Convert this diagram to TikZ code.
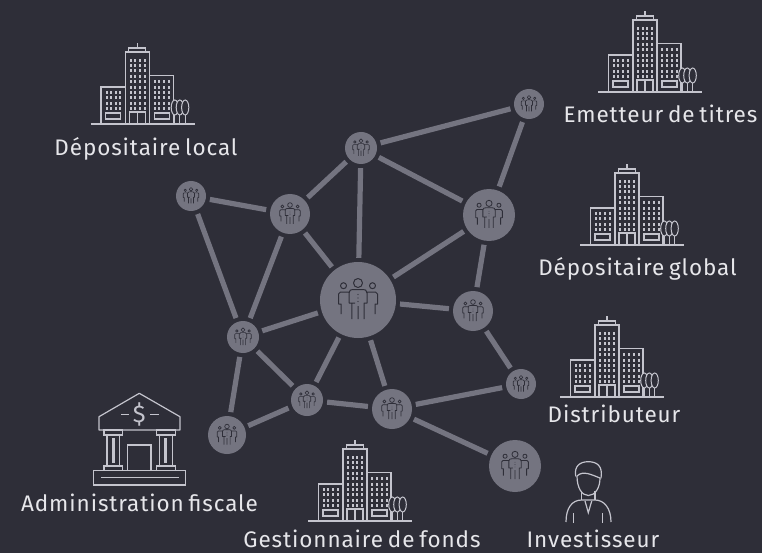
\documentclass[tikz,border=0pt]{standalone}
\usepackage{fontspec}
\setmainfont[WordSpace=0.7,LetterSpace=4]{Fira Sans}
\definecolor{ink}{HTML}{2E2E38}
\definecolor{hubgray}{HTML}{747480}
\definecolor{iconline}{HTML}{C4C4CD}
\definecolor{labeltext}{HTML}{E6E6EA}
\tikzset{
  hub/.style={circle,fill=hubgray,inner sep=0pt,minimum size=#1},
  link/.style={line width=5.2pt,hubgray,shorten <=4pt,shorten >=4pt},
  outline/.style={draw=iconline,line width=1.2pt},
  tag/.style={text=labeltext,font=\fontsize{22.5}{25}\selectfont,inner sep=0pt,anchor=base},
  pics/crowd/.style={code={
    \draw[ink,line width=#1,line join=round]
      (0,-17) circle (4.5)
      (-14.5,-14.3) circle (3) (14.5,-14.3) circle (3)
      (-3,3) -- (-6.2,3) -- (-6.2,19) (-6.2,3) -- (-9,3) -- (-9,-7) .. controls (-9,-10) and (-7,-10.5) .. (-5,-10.5) -- (5,-10.5) .. controls (7,-10.5) and (9,-10) .. (9,-7) -- (9,3) -- (6.2,3) -- (6.2,19)
      (0,6) -- (0,19)
      (-9,-8) -- (-17.5,-8) -- (-19.5,-6) -- (-19.5,4) -- (-17,4) -- (-17,14)
      (9,-8) -- (17.5,-8) -- (19.5,-6) -- (19.5,4) -- (17,4) -- (17,14);
    \fill[ink] (0,-5.5) circle (.6) (0,-2) circle (.6) (0,1.5) circle (.6);
  }},
  pics/tower/.style={code={
    \draw[outline] (-47,0) -- (57,0);
    \draw[outline] (-12,0) rectangle (12,-72);
    \draw[outline] (-8.7,-72) rectangle (8.3,-76);
    \draw[outline] (0,-76) -- (0,-81);
    \draw[outline] (-12,-37) -- (-36.5,-37) -- (-36.5,0);
    \draw[outline] (12,-48.7) -- (36,-48.7) -- (36,0);
    \draw[outline] (-8,0) -- (-8,-12) -- (8,-12) -- (8,0) (0,0) -- (0,-12);
    \draw[outline] (-32,-5) rectangle (-17,-11);
    \draw[outline] (17,-5) rectangle (32,-11);
    \foreach \wx in {-7,-2.3,2.3,7}
      \foreach \wy in {1,...,10}
        \fill[iconline] ({\wx-1},{-10-5.38*\wy-1.5}) rectangle ++(2,3);
    \foreach \wx in {-31,-26.7,-21.7,-17.3}
      \foreach \wy in {1,...,4}
        \fill[iconline] ({\wx-1},{-10-5.38*\wy-1.5}) rectangle ++(2,3);
    \foreach \wx in {17,21.7,26.7,31.7}
      \foreach \wy in {1,...,6}
        \fill[iconline] ({\wx-1},{-10-5.38*\wy-1.5}) rectangle ++(2,3);
    \foreach \wx in {37.3,42.3,47.7} {
      \draw[draw=iconline,line width=1pt,fill=ink] (\wx,-16.5) ellipse (3.6 and 7.5);
      \draw[draw=iconline,line width=1pt] (\wx,-9) -- (\wx,0);
    }
  }}
}
\begin{document}
\begin{tikzpicture}[x=1pt,y=-1pt]
  \fill[ink] (0,0) rectangle (762,553);
  \useasboundingbox (0,0) rectangle (762,553);
  \foreach \name/\px/\py/\rad in {Core/358/300/38,Top/361/148/16,East/489/215/26,Far/529/104/15,
    North/290/214/20,West/191/196/15,Near/473/311/20,Edge/521/384/15,Mid/243/337/16,
    Low/307/400/16,South/392/409/20,Corner/227/435/19,Tail/515/466/26} {
    \node[hub={2pt*\rad}] (\name) at (\px,\py) {};
    \pic[scale=\rad/38] at (\name) {crowd={.4pt+.6pt*\rad/38}};
  }
  \foreach \from/\to in {Top/Far,Top/East,Top/Core,North/Top,West/North,North/Core,West/Mid,North/Mid,
    Mid/Core,Mid/Corner,Mid/Low,Low/Core,Low/Corner,Low/South,South/Core,South/Edge,South/Tail,
    Core/Near,Core/East,East/Near,East/Far,Near/Edge}
    \draw[link] (\from) -- (\to);
  \pic at (645,92) {tower};
  \pic at (137.5,124) {tower};
  \pic at (627,245) {tower};
  \pic at (607,397) {tower};
  \pic at (355,521) {tower};
  \node[tag] (emetteur) at (660.5,123) {Emetteur de titres};
  \node[tag] (localdep) at (146,155.7) {Dépositaire local};
  \node[tag] (globaldep) at (637.5,275) {Dépositaire global};
  \node[tag] (distrib) at (614,422) {Distributeur};
  \node[tag] (fisc) at (139.5,511) {Administration fiscale};
  \node[tag] (gest) at (362,547) {Gestionnaire de fonds};
  \node[tag] (invest) at (593,547) {Investisseur};
  \draw[outline,line join=round] (99,430) -- (99,416.7) -- (139.3,393.3) -- (180,416.7) -- (180,430) -- cycle;
  \node[text=iconline,font=\fontsize{24}{24}\selectfont,inner sep=0pt] (dollar) at (139.3,414.5) {\$};
  \draw[outline] (121,414.3) -- (129,414.3) (150,414.3) -- (159,414.3);
  \foreach \cx in {113.3,165.8} {
    \draw[outline] ({\cx-9.3},430) rectangle ({\cx+9.3},435);
    \draw[outline] ({\cx-6.3},435) rectangle ({\cx+6.3},466);
    \draw[outline] ({\cx-9.3},466) rectangle ({\cx+9.3},470.7);
    \fill[iconline] ({\cx-1.5},438) rectangle ({\cx+1.5},463);
  }
  \draw[outline] (127.7,470.7) -- (127.7,445) -- (151,445) -- (151,470.7);
  \draw[outline] (93.3,470.7) rectangle (185.7,485);
  \draw[outline] (101,477.7) -- (179,477.7);
  \draw[outline,line cap=round] (575.7,476) .. controls (574,466) and (580,461.7) .. (588.3,461.7) .. controls (597,461.7) and (603,466) .. (601,478);
  \draw[outline] (577,476) .. controls (583,470) and (592,475) .. (600,478);
  \draw[outline] (577,476) .. controls (577,488) and (582,495.5) .. (588.3,495.5) .. controls (595,495.5) and (600,488) .. (600,478);
  \draw[outline] (581.7,491) -- (581.7,500) (595,491) -- (595,500);
  \draw[outline] (566,522) .. controls (566,508) and (572,500) .. (581.7,500) -- (595,500) .. controls (604,500) and (611,508) .. (611,522);
  \draw[outline] (573.3,513) -- (573.3,522.7) (602.7,513) -- (602.7,522.7);
  \draw[outline] (585,501) -- (588.3,512.7) -- (591.7,501);
\end{tikzpicture}
\end{document}
